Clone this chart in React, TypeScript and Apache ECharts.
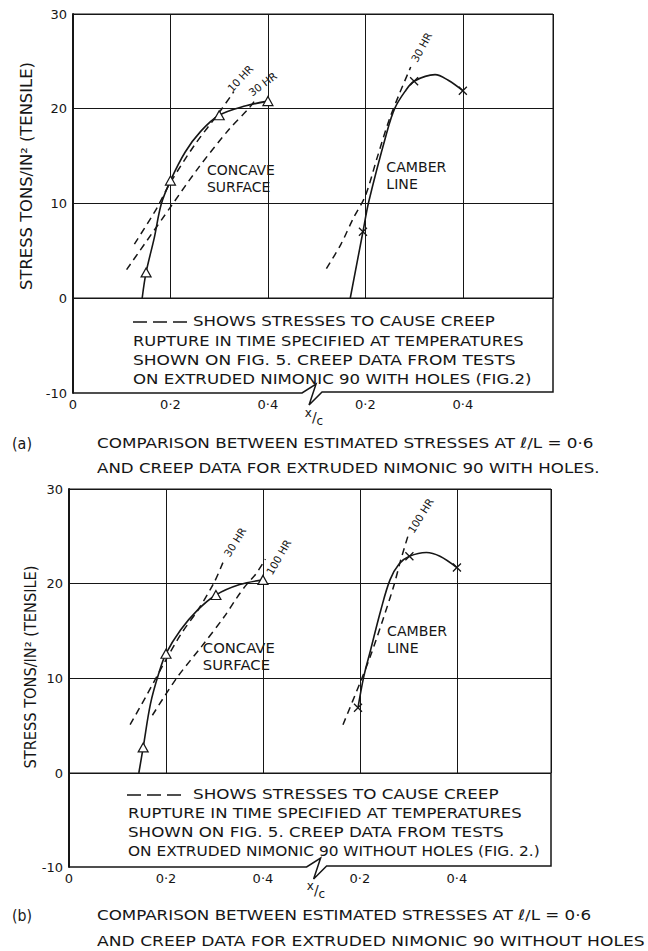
import React, { useEffect, useRef } from "react";
import * as echarts from "echarts";

const INK = "#161616";
const FONT = "DejaVu Sans";

// ---------------- data (x/c, stress tons/in²) ----------------
const X_TICK_LABELS: [number, string][] = [
  [0, "0"],
  [0.2, "0·2"],
  [0.4, "0·4"],
  [0.6, "0·2"],
  [0.8, "0·4"],
];
// camber-line x/c values are drawn on the right-hand part of the broken axis
const CAMBER_SHIFT = 0.4;

// Panel (a) – with holes
const concaveA: [number, number][] = [
  [0.142, 0], [0.15, 2.7], [0.167, 6.4], [0.181, 9.9], [0.2, 12.4],
  [0.23, 15.4], [0.262, 17.6], [0.3, 19.3], [0.355, 20.3], [0.4, 20.8],
];
const concaveAMarks = [1, 4, 7, 9];
const creepA10: [number, number][] = [
  [0.126, 5.7], [0.171, 9.4], [0.2, 12.2], [0.25, 16.2], [0.3, 19.6], [0.33, 21.8],
];
const creepA30: [number, number][] = [
  [0.11, 3.0], [0.2, 9.6], [0.258, 13.8], [0.32, 17.8], [0.362, 20.1], [0.375, 21.0],
];
const camberA: [number, number][] = [
  [0.169, 0], [0.195, 7.0], [0.207, 10.2], [0.243, 17.3], [0.26, 20.0],
  [0.281, 21.8], [0.3, 22.9], [0.343, 23.6], [0.37, 23.0], [0.4, 21.9],
];
const camberAMarks = [1, 6, 9];
const camberCreepA30: [number, number][] = [
  [0.12, 3.1], [0.15, 5.7], [0.175, 8.4], [0.2, 10.8], [0.224, 14.8],
  [0.248, 18.7], [0.27, 21.6], [0.293, 24.4],
];

// Panel (b) – without holes
const concaveB: [number, number][] = [
  [0.144, 0], [0.153, 2.7], [0.168, 7.3], [0.185, 10.5], [0.2, 12.6],
  [0.23, 15.1], [0.265, 17.2], [0.303, 18.8], [0.352, 19.9], [0.4, 20.4],
];
const concaveBMarks = [1, 4, 7, 9];
const creepB30: [number, number][] = [
  [0.126, 5.1], [0.16, 8.2], [0.195, 11.5], [0.23, 14.6], [0.267, 17.3], [0.3, 20.2], [0.318, 22.3],
];
const creepB100: [number, number][] = [
  [0.172, 6.1], [0.223, 10.1], [0.274, 13.4], [0.32, 16.5], [0.346, 18.5],
  [0.366, 19.9], [0.385, 21.0], [0.405, 22.6],
];
const camberB: [number, number][] = [
  [0.196, 6.9], [0.208, 10.2], [0.222, 13.0], [0.243, 17.2], [0.262, 20.4],
  [0.281, 22.1], [0.302, 22.9], [0.337, 23.3], [0.365, 22.9], [0.4, 21.7],
];
const camberBMarks = [0, 6, 9];
const camberCreepB100: [number, number][] = [
  [0.165, 5.1], [0.2, 9.5], [0.222, 12.4], [0.248, 16.3], [0.27, 19.8], [0.283, 22.3], [0.3, 25.2],
];

// texts
const Y_NAME = "STRESS TONS/IN² (TENSILE)";
const NOTE_A = [
  "SHOWS STRESSES TO CAUSE CREEP",
  "RUPTURE IN TIME SPECIFIED AT TEMPERATURES",
  "SHOWN ON FIG. 5. CREEP DATA FROM TESTS",
  "ON EXTRUDED NIMONIC 90 WITH HOLES (FIG.2)",
];
const NOTE_B = [
  "SHOWS STRESSES TO CAUSE CREEP",
  "RUPTURE IN TIME SPECIFIED AT TEMPERATURES",
  "SHOWN ON FIG. 5. CREEP DATA FROM TESTS",
  "ON EXTRUDED NIMONIC 90 WITHOUT HOLES (FIG. 2.)",
];
const CAPTION_A = [
  "COMPARISON BETWEEN ESTIMATED STRESSES AT ℓ/L = 0·6",
  "AND CREEP DATA FOR EXTRUDED NIMONIC 90 WITH HOLES.",
];
const CAPTION_B = [
  "COMPARISON BETWEEN ESTIMATED STRESSES AT ℓ/L = 0·6",
  "AND CREEP DATA FOR EXTRUDED NIMONIC 90 WITHOUT HOLES",
];

// ---------------- layout ----------------
const PANELS = [
  {
    tag: "(a)",
    left: 73, width: 480, top: 14, upH: 284, lowH: 95, xMax: 0.985, breakX: 0.47,
    concave: concaveA, concaveMarks: concaveAMarks,
    creep: [creepA10, creepA30],
    camber: camberA, camberMarks: camberAMarks, camberCreep: camberCreepA30,
    hr: [
      { t: "10 HR", x: 0.343, y: 23.2, r: 47 },
      { t: "30 HR", x: 0.389, y: 22.6, r: 37 },
      { t: "30 HR", x: 0.715, y: 26.5, r: 61 },
    ],
    region: [
      { t: "CONCAVE\nSURFACE", x: 0.275, y: 12.6, w: 68 },
      { t: "CAMBER\nLINE", x: 0.643, y: 12.9, w: 60 },
    ],
    note: NOTE_A,
    noteSample: [133, 187], noteTextX: 193, noteX: 133,
    noteY: [322, 341, 361, 380], noteRight: [495, 524, 516, 532],
    name: { x: 27, y: 176, len: 228 },
    xc: { x: 314, y: 417 },
    caption: CAPTION_A, captionY: [443, 468], captionRight: [594, 600],
  },
  {
    tag: "(b)",
    left: 69, width: 482, top: 489, upH: 284, lowH: 94, xMax: 0.994, breakX: 0.49,
    concave: concaveB, concaveMarks: concaveBMarks,
    creep: [creepB30, creepB100],
    camber: camberB, camberMarks: camberBMarks, camberCreep: camberCreepB100,
    hr: [
      { t: "30 HR", x: 0.342, y: 24.4, r: 58 },
      { t: "100 HR", x: 0.432, y: 22.8, r: 60 },
      { t: "100 HR", x: 0.725, y: 27.2, r: 58 },
    ],
    region: [
      { t: "CONCAVE\nSURFACE", x: 0.276, y: 12.3, w: 72 },
      { t: "CAMBER\nLINE", x: 0.656, y: 14.1, w: 60 },
    ],
    note: NOTE_B,
    noteSample: [127, 187], noteTextX: 193, noteX: 128,
    noteY: [795, 814, 833, 851], noteRight: [499, 522, 504, 540],
    name: { x: 30, y: 667, len: 203 },
    xc: { x: 316, y: 890 },
    caption: CAPTION_B, captionY: [915, 941], captionRight: [592, 645],
  },
];

const TRI = "triangle";
const CROSS = "path://M0,0L10,10M10,0L0,10";

let measureCtx: CanvasRenderingContext2D | null = null;
function textWidth(s: string, size: number): number {
  if (!measureCtx) measureCtx = document.createElement("canvas").getContext("2d");
  const lines = s.split("\n");
  measureCtx!.font = `${size}px "${FONT}"`;
  return Math.max(...lines.map((l) => measureCtx!.measureText(l).width));
}

function tickLabel(v: number): string {
  const m = X_TICK_LABELS.find((t) => Math.abs(t[0] - v) < 1e-6);
  return m ? m[1] : "";
}

function curve(points: [number, number][], marks: number[], shift: number, symbol: string) {
  return points.map((p, i) =>
    marks.includes(i) ? { value: [p[0] + shift, p[1]], symbol } : { value: [p[0] + shift, p[1]], symbol: "none" }
  );
}

function buildBase() {
  const grid: any[] = [];
  const xAxis: any[] = [];
  const yAxis: any[] = [];
  const series: any[] = [];
  PANELS.forEach((p, pi) => {
    const gUp = pi * 2;
    const gLow = pi * 2 + 1;
    grid.push({
      left: p.left, top: p.top, width: p.width, height: p.upH,
      show: true, borderColor: INK, borderWidth: 1, backgroundColor: "transparent",
    });
    grid.push({ left: p.left, top: p.top + p.upH, width: p.width, height: p.lowH, show: false });
    xAxis.push({
      gridIndex: gUp, type: "value", min: 0, max: p.xMax, interval: 0.2,
      axisLine: { show: false }, axisTick: { show: false }, axisLabel: { show: false },
      splitLine: { show: true, lineStyle: { color: INK, width: 1 } },
    });
    xAxis.push({
      gridIndex: gLow, type: "value", min: 0, max: p.xMax, interval: 0.2,
      axisLine: { show: false }, axisTick: { show: false }, splitLine: { show: false },
      axisLabel: {
        show: true, margin: 5, color: INK, fontFamily: FONT, fontSize: 13,
        formatter: (v: number) => tickLabel(v),
      },
    });
    yAxis.push({
      gridIndex: gUp, type: "value", min: 0, max: 30, interval: 10,
      axisLine: { show: true, lineStyle: { color: INK, width: 2 } },
      axisTick: { show: false },
      axisLabel: { margin: 6, color: INK, fontFamily: FONT, fontSize: 13 },
      splitLine: { show: true, lineStyle: { color: INK, width: 1 } },
    });
    yAxis.push({
      gridIndex: gLow, type: "value", min: -10, max: 0, interval: 10,
      axisLine: { show: true, lineStyle: { color: INK, width: 2 } },
      axisTick: { show: false },
      axisLabel: {
        margin: 6, color: INK, fontFamily: FONT, fontSize: 13,
        formatter: (v: number) => (v === -10 ? "-10" : ""),
      },
      splitLine: { show: false },
    });
    const solidStyle = { color: INK, width: 1.6 };
    const dashStyle = { color: INK, width: 1.5, type: [7, 5] };
    series.push({
      type: "line", xAxisIndex: gUp, yAxisIndex: gUp, smooth: 0.35,
      symbol: TRI, symbolSize: [10, 9], showSymbol: true, showAllSymbol: true,
      itemStyle: { color: "#ffffff", borderColor: INK, borderWidth: 1.2 },
      lineStyle: solidStyle, z: 3,
      data: curve(p.concave, p.concaveMarks, 0, TRI),
    });
    series.push({
      type: "line", xAxisIndex: gUp, yAxisIndex: gUp, smooth: 0.35,
      symbol: CROSS, symbolSize: 8, showSymbol: true, showAllSymbol: true,
      itemStyle: { color: "rgba(0,0,0,0)", borderColor: INK, borderWidth: 1.3 },
      lineStyle: solidStyle, z: 3,
      data: curve(p.camber, p.camberMarks, CAMBER_SHIFT, CROSS),
    });
    [...p.creep].forEach((c) => {
      series.push({
        type: "line", xAxisIndex: gUp, yAxisIndex: gUp, smooth: 0.3, symbol: "none",
        lineStyle: dashStyle, z: 2,
        data: c.map((q) => [q[0], q[1]]),
      });
    });
    series.push({
      type: "line", xAxisIndex: gUp, yAxisIndex: gUp, smooth: 0.3, symbol: "none",
      lineStyle: dashStyle, z: 2,
      data: p.camberCreep.map((q) => [q[0] + CAMBER_SHIFT, q[1]]),
    });
  });
  return {
    animation: false,
    backgroundColor: "#ffffff",
    grid, xAxis, yAxis, series,
  };
}

function txt(s: string, x: number, y: number, size: number, opts: any = {}) {
  const align = opts.align || "left";
  const valign = opts.valign || "middle";
  const scaleX = opts.width ? opts.width / textWidth(s, size) : 1;
  return {
    type: "text", x, y, z: 100,
    rotation: opts.rot ? (opts.rot * Math.PI) / 180 : 0,
    scaleX,
    style: {
      text: s, fill: INK, fontSize: size, fontFamily: FONT,
      lineHeight: opts.lineHeight,
      align, verticalAlign: valign, textAlign: align, textVerticalAlign: valign,
    },
  };
}

function buildGraphic(chart: any) {
  const els: any[] = [];
  PANELS.forEach((p, pi) => {
    const gUp = pi * 2;
    const gLow = pi * 2 + 1;
    const up = (x: number, y: number) => chart.convertToPixel({ gridIndex: gUp }, [x, y]);
    const low = (x: number, y: number) => chart.convertToPixel({ gridIndex: gLow }, [x, y]);
    // bottom edge with axis break, and right edge of the lower box
    const bl = low(0, -10);
    const bs = low(p.breakX, -10);
    const br = low(p.xMax, -10);
    const tr = low(p.xMax, 0);
    els.push({
      type: "polyline", z: 100,
      shape: {
        points: [
          [bl[0], bl[1]], [bs[0], bs[1]], [bs[0] + 14, bs[1] - 9], [bs[0] + 7, bs[1] + 12],
          [bs[0] + 20, bs[1] - 1], [br[0], br[1] - 1], [tr[0], tr[1]],
        ],
      },
      style: { stroke: INK, lineWidth: 1.5, fill: "none" },
    });
    // curve labels
    p.hr.forEach((h) => {
      const q = up(h.x, h.y);
      els.push(txt(h.t, q[0], q[1], 10.5, { align: "center", rot: h.r }));
    });
    p.region.forEach((r) => {
      const q = up(r.x, r.y);
      const first = r.t.split("\n")[0];
      const sc = r.w / textWidth(first, 13.5);
      const e = txt(r.t, q[0], q[1], 13.5, { lineHeight: 17 });
      e.scaleX = sc;
      els.push(e);
    });
    // note inside the lower box
    els.push({
      type: "line", z: 100,
      shape: { x1: p.noteSample[0], y1: p.noteY[0], x2: p.noteSample[1], y2: p.noteY[0] },
      style: { stroke: INK, lineWidth: 1.4, lineDash: [14, 6] },
    });
    p.note.forEach((line, i) => {
      const x0 = i === 0 ? p.noteTextX : p.noteX;
      els.push(txt(line, x0, p.noteY[i], 13.5, { width: p.noteRight[i] - x0 }));
    });
    // y axis name
    els.push(txt(Y_NAME, p.name.x, p.name.y, 15, { align: "center", rot: 90, width: p.name.len }));
    // x/c axis name
    els.push({
      type: "text", x: p.xc.x, y: p.xc.y, z: 100,
      style: {
        text: "{a|x}{b|/}{c|c}", fill: INK, fontFamily: FONT, align: "center", verticalAlign: "middle",
        textAlign: "center", textVerticalAlign: "middle",
        rich: {
          a: { fontSize: 12, fontFamily: FONT, lineHeight: 20, verticalAlign: "top", fill: INK },
          b: { fontSize: 14, fontFamily: FONT, lineHeight: 20, verticalAlign: "middle", fill: INK },
          c: { fontSize: 12, fontFamily: FONT, lineHeight: 20, verticalAlign: "bottom", fill: INK },
        },
      },
    });
    // caption
    els.push(txt(p.tag, 12, p.captionY[0], 15, { width: 20 }));
    p.caption.forEach((line, i) => {
      els.push(txt(line, 97, p.captionY[i], 14.5, { width: p.captionRight[i] - 97 }));
    });
  });
  return els;
}

export default function App() {
  const ref = useRef<HTMLDivElement>(null);
  useEffect(() => {
    document.body.style.margin = "0";
    const chart = echarts.init(ref.current!, null, { renderer: "svg" });
    chart.setOption(buildBase() as any);
    chart.setOption({ graphic: buildGraphic(chart) } as any);
    return () => chart.dispose();
  }, []);
  return <div ref={ref} style={{ width: 648, height: 951, background: "#fff" }} />;
}
